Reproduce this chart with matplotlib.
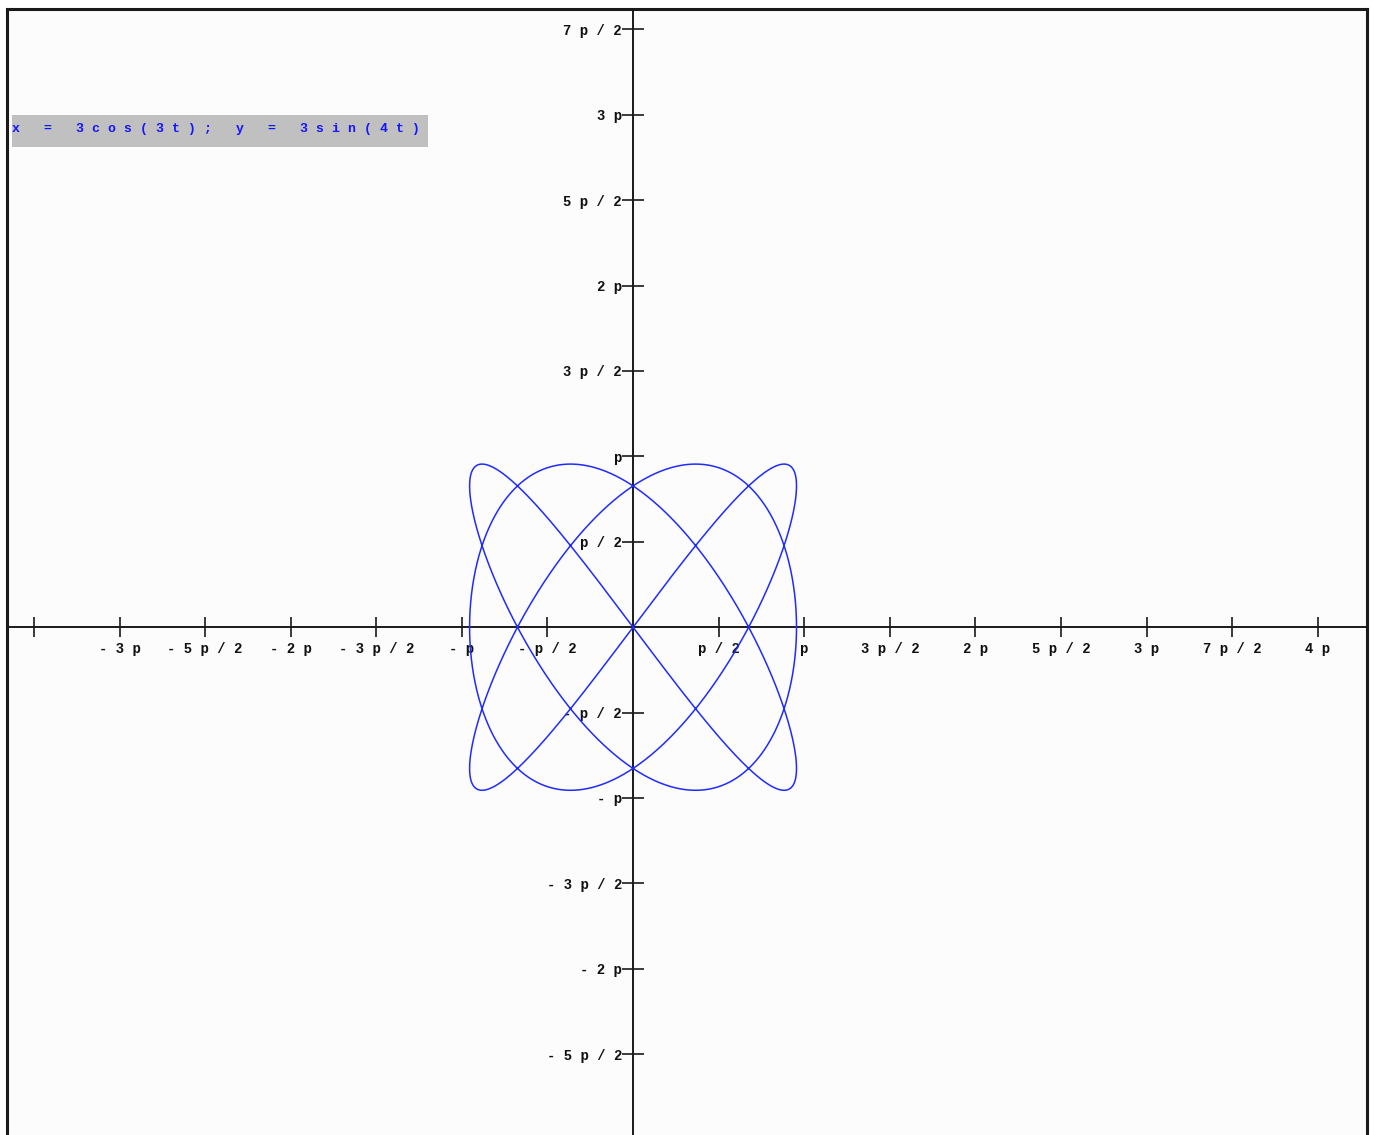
import numpy as np
import matplotlib
matplotlib.use("Agg")
import matplotlib.pyplot as plt
from matplotlib.patches import Rectangle

# --- curve: x = 3cos(3t), y = 3sin(4t) ---
AMP = 3.0
FX, FY = 3, 4
CAPTION = "x = 3cos(3t); y = 3sin(4t)"

# ticks in multiples of pi/2, labels as the Symbol-font renderer shows them
xtick_halves = [-7, -6, -5, -4, -3, -2, -1, 1, 2, 3, 4, 5, 6, 7, 8]
xtick_labels = ["", "-3p", "-5p/2", "-2p", "-3p/2", "-p", "-p/2",
                "p/2", "p", "3p/2", "2p", "5p/2", "3p", "7p/2", "4p"]
ytick_halves = [-5, -4, -3, -2, -1, 1, 2, 3, 4, 5, 6, 7]
ytick_labels = ["-5p/2", "-2p", "-3p/2", "-p", "-p/2",
                "p/2", "p", "3p/2", "2p", "5p/2", "3p", "7p/2"]

XLIM = (-11.49, 13.47)
YLIM = (-9.34, 11.37)
MONO = "Liberation Mono"
INK = "#1a1a1a"


def spaced(s):
    # the original renderer letter-spaces everything
    return " ".join(s)


t = np.linspace(0, 2 * np.pi, 2000)
x = AMP * np.cos(FX * t)
y = AMP * np.sin(FY * t)

W, H = 1374, 1135
fig = plt.figure(figsize=(W / 100, H / 100), dpi=100)
fig.patch.set_facecolor("white")
ax = fig.add_axes([7 / W, 0, (1367 - 7) / W, (H - 9) / H])
ax.set_facecolor("#fcfcfc")

ax.plot(x, y, color="#1f2bff", lw=1.1, zorder=3)

ax.set_xlim(*XLIM)
ax.set_ylim(*YLIM)

# axes crossing at the origin
ax.spines["left"].set_position(("data", 0))
ax.spines["bottom"].set_position(("data", 0))
for s in ("left", "bottom"):
    ax.spines[s].set_color(INK)
    ax.spines[s].set_linewidth(1.4)
for s in ("top", "right"):
    ax.spines[s].set_color(INK)
    ax.spines[s].set_linewidth(2.2)
# left edge of the frame
ax.plot([0, 0], [0, 1], transform=ax.transAxes, color=INK, lw=2.2,
        clip_on=False, zorder=5)

ax.set_xticks(np.array(xtick_halves) * np.pi / 2)
ax.set_xticklabels([spaced(s) for s in xtick_labels])
ax.set_yticks(np.array(ytick_halves) * np.pi / 2)
ax.set_yticklabels([spaced(s) for s in ytick_labels])
ax.tick_params(axis="x", direction="inout", length=14, width=1.2,
               color=INK, pad=4, labelsize=10)
ax.tick_params(axis="y", direction="inout", length=16, width=1.2,
               color=INK, pad=0, labelsize=10)
for lab in ax.get_xticklabels() + ax.get_yticklabels():
    lab.set_family(MONO)
    lab.set_weight("bold")
    lab.set_color("#111111")

# caption box, top left
ax.add_patch(Rectangle((5 / 1360, 1 - 138 / 1126), 416 / 1360, 32 / 1126,
                       transform=ax.transAxes, facecolor="#c0c0c0",
                       edgecolor="none", zorder=4))
ax.text(5 / 1360, 1 - 120 / 1126, spaced(CAPTION),
        transform=ax.transAxes, family=MONO, fontsize=9.5, weight="bold",
        color="#1414ff", ha="left", va="center", zorder=5)

fig.savefig("out.png", dpi=100, facecolor=fig.get_facecolor())
